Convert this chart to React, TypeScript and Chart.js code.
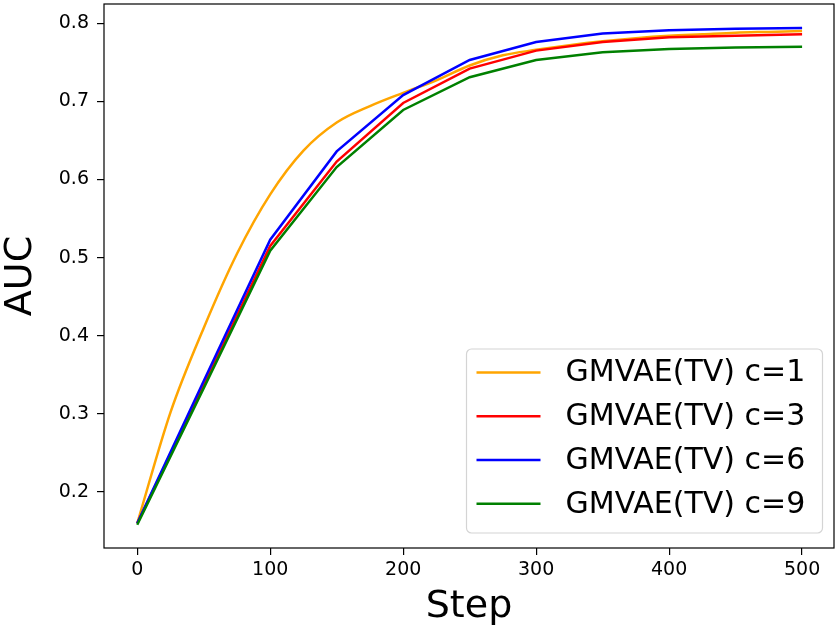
import React, { useEffect, useRef } from "react";
import { Chart, registerables } from "chart.js";

Chart.register(...registerables);

// Steps
const STEPS_FINE = [0, 25, 50, 75, 100, 125, 150, 175, 200, 225, 250, 275, 300, 325, 350, 375, 400, 425, 450, 475, 500];
const STEPS = [0, 50, 100, 150, 200, 250, 300, 350, 400, 450, 500];

// AUC per run
const AUC_C1 = [0.16, 0.302, 0.41, 0.505, 0.581, 0.637, 0.673, 0.694, 0.711, 0.727, 0.746, 0.759, 0.766, 0.772, 0.777, 0.781, 0.784, 0.786, 0.788, 0.789, 0.79];
const AUC_C3 = [0.16, 0.337, 0.515, 0.623, 0.698, 0.742, 0.765, 0.776, 0.782, 0.784, 0.786];
const AUC_C6 = [0.16, 0.342, 0.523, 0.636, 0.708, 0.753, 0.776, 0.787, 0.791, 0.793, 0.794];
const AUC_C9 = [0.158, 0.333, 0.509, 0.616, 0.689, 0.731, 0.753, 0.763, 0.767, 0.769, 0.77];

const X_TICKS = [0, 100, 200, 300, 400, 500];
const Y_TICKS = [0.2, 0.3, 0.4, 0.5, 0.6, 0.7, 0.8];

const FONT = "'DejaVu Sans', sans-serif";

const toPoints = (xs: number[], ys: number[]) => xs.map((x, i) => ({ x, y: ys[i] }));

// draws the box around the plot and the legend inside the lower right corner
const frameAndLegend = {
  id: "frameAndLegend",
  afterDraw(chart: any) {
    const { ctx, chartArea } = chart;
    ctx.save();
    ctx.strokeStyle = "#000";
    ctx.lineWidth = 1.2;
    ctx.strokeRect(chartArea.left, chartArea.top, chartArea.right - chartArea.left, chartArea.bottom - chartArea.top);

    const w = 356;
    const h = 184;
    const x0 = chartArea.right - 11.5 - w;
    const y0 = chartArea.bottom - 15 - h;
    ctx.beginPath();
    ctx.roundRect(x0, y0, w, h, 5);
    ctx.fillStyle = "rgba(255,255,255,0.8)";
    ctx.fill();
    ctx.strokeStyle = "#d4d4d4";
    ctx.lineWidth = 1.2;
    ctx.stroke();

    const datasets = chart.data.datasets;
    ctx.font = `30px ${FONT}`;
    ctx.textBaseline = "middle";
    ctx.textAlign = "left";
    datasets.forEach((ds: any, i: number) => {
      const y = y0 + 23.4 + i * 43.8;
      ctx.beginPath();
      ctx.moveTo(x0 + 10, y);
      ctx.lineTo(x0 + 74, y);
      ctx.strokeStyle = ds.borderColor;
      ctx.lineWidth = 2.5;
      ctx.stroke();
      ctx.fillStyle = "#000";
      ctx.fillText(ds.label, x0 + 99, y + 1);
    });
    ctx.restore();
  },
};

const AucChart: React.FC = () => {
  const chartRef = useRef<HTMLCanvasElement>(null);
  const chartInstance = useRef<Chart | null>(null);

  useEffect(() => {
    if (!chartRef.current) return;
    if (chartInstance.current) chartInstance.current.destroy();

    const line = (label: string, color: string, data: any[], order: number, smooth = false) => ({
      label,
      data,
      borderColor: color,
      backgroundColor: color,
      borderWidth: 2.5,
      pointRadius: 0,
      fill: false,
      tension: 0,
      cubicInterpolationMode: smooth ? "monotone" : "default",
      order,
    });

    chartInstance.current = new Chart(chartRef.current, {
      type: "line",
      data: {
        datasets: [
          line("GMVAE(TV) c=1", "#FFA500", toPoints(STEPS_FINE, AUC_C1), 4, true),
          line("GMVAE(TV) c=3", "#FF0000", toPoints(STEPS, AUC_C3), 3),
          line("GMVAE(TV) c=6", "#0000FF", toPoints(STEPS, AUC_C6), 2),
          line("GMVAE(TV) c=9", "#008000", toPoints(STEPS, AUC_C9), 1),
        ] as any,
      },
      options: {
        animation: false,
        responsive: true,
        maintainAspectRatio: false,
        layout: { padding: { top: 4, right: 6, left: 0, bottom: 0 } },
        plugins: {
          legend: { display: false },
          tooltip: { enabled: false },
        },
        scales: {
          x: {
            type: "linear",
            min: -25,
            max: 524,
            afterBuildTicks: (scale: any) => {
              scale.ticks = X_TICKS.map((v) => ({ value: v }));
            },
            afterFit: (scale: any) => {
              scale.height = 82;
              scale.paddingLeft = 0;
              scale.paddingRight = 0;
            },
            grid: { display: true, drawOnChartArea: false, drawTicks: true, tickLength: 7, color: "#000", lineWidth: 1.2 },
            border: { display: false },
            ticks: { color: "#000", font: { family: FONT, size: 19 }, padding: 4, maxRotation: 0 },
            title: {
              display: true,
              text: "Step",
              color: "#000",
              font: { family: FONT, size: 38, lineHeight: 1.2 },
              padding: 0,
            },
          },
          y: {
            type: "linear",
            min: 0.1283,
            max: 0.8247,
            afterBuildTicks: (scale: any) => {
              scale.ticks = Y_TICKS.map((v) => ({ value: v }));
            },
            afterFit: (scale: any) => {
              scale.width = 104;
              scale.paddingTop = 0;
              scale.paddingBottom = 0;
            },
            grid: { display: true, drawOnChartArea: false, drawTicks: true, tickLength: 7, color: "#000", lineWidth: 1.2 },
            border: { display: false },
            ticks: {
              color: "#000",
              font: { family: FONT, size: 19 },
              padding: 8,
              callback: (v: any) => Number(v).toFixed(1),
            },
            title: {
              display: true,
              text: "AUC",
              color: "#000",
              font: { family: FONT, size: 38, lineHeight: 1.1 },
              padding: 0,
            },
          },
        },
      },
      plugins: [frameAndLegend],
    });

    return () => {
      if (chartInstance.current) {
        chartInstance.current.destroy();
        chartInstance.current = null;
      }
    };
  }, []);

  return (
    <div style={{ position: "fixed", left: 0, top: 0, width: "840px", height: "630px", background: "#fff" }}>
      <canvas ref={chartRef}></canvas>
    </div>
  );
};

export default function App() {
  return <AucChart />;
}
